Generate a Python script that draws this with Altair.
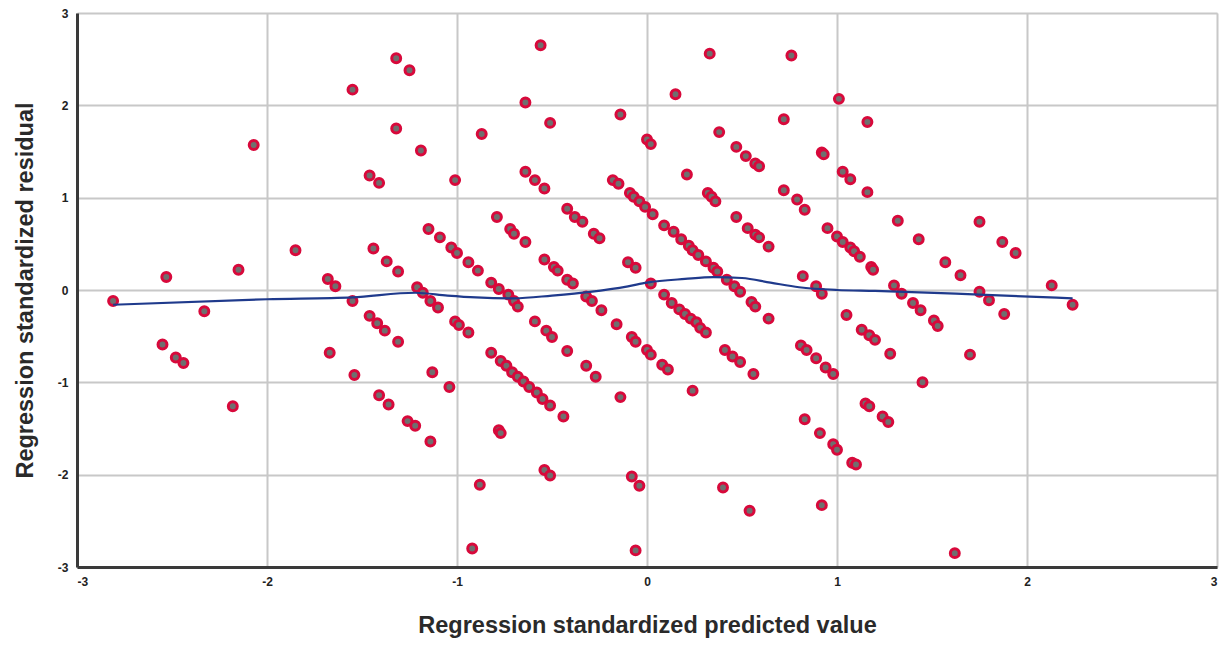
import altair as alt
import pandas as pd

# Scatter points (standardized predicted value, standardized residual)
pred = [
    -2.81, -2.53, -2.15, -2.07, -1.85, -1.55, -1.32, -1.25, -1.32, -1.19,
    -1.46, -1.41, -1.01, -1.15, -1.09, -1.03, -1.00, -1.44, -1.37, -1.31,
    -1.68, -1.64, -1.21, -1.18, -2.33, -2.55, -2.48, -2.44, -2.18, -1.55,
    -1.67, -1.54, -1.46, -1.42, -1.38, -1.31, -1.41, -1.36, -1.26, -1.22,
    -1.14, -1.14, -1.10, -1.13, -1.04, -1.01,
    -0.56, -0.64, -0.51, -0.87, -0.14, -0.64, -0.59, -0.54, 0.00, 0.02,
    0.33, 0.15, 0.76, 1.01, 0.72, 0.38, 0.47, 0.52, 0.57, 0.59,
    0.92, 0.93, 0.21, 0.72, 0.79, 0.83, -0.18, -0.15, -0.09, -0.07,
    -0.04, -0.01, 0.03, 0.32, 0.34, 0.36, 0.47, 0.53, 0.57, 0.59,
    0.64, 0.95, 1.00, 0.09, 0.14, 0.18, 0.22, 0.24, 0.27, 0.31,
    0.35, 0.37, 0.42, 0.46, 0.49, 0.82, 0.89, 0.92, 0.02, 0.09,
    -0.42, -0.38, -0.34, -0.28, -0.25, -0.10, -0.06, -0.79, -0.72, -0.70,
    -0.64, -0.94, -0.89, -0.82, -0.78, -0.73, -0.54, -0.49, -0.47, -0.42,
    -0.39, -0.32,
    -0.70, -0.68, -0.99, -0.94, -0.59, -0.53, -0.50, -0.42, -0.82, -0.77,
    -0.74, -0.71, -0.68, -0.65, -0.62, -0.58, -0.55, -0.51, -0.44, -0.78,
    -0.77, -0.88, -0.92, -0.54, -0.51, -0.29, -0.24, -0.16, -0.08, -0.06,
    0.00, 0.02, 0.08, 0.11, -0.32, -0.27, -0.14, 0.24, -0.08, -0.04,
    -0.06, 0.40, 0.54, 0.92, 0.13, 0.17, 0.20, 0.23, 0.26, 0.28,
    0.31, 0.55, 0.57, 0.64, 0.41, 0.45, 0.49, 0.56, 0.81, 0.84,
    0.89, 0.94, 0.98, 0.83, 0.91, 0.98, 1.00,
    1.16, 1.03, 1.07, 1.16, 1.32, 1.75, 1.43, 1.87, 1.94, 1.57,
    1.65, 2.13, 1.03, 1.07, 1.09, 1.12, 1.18, 1.19, 1.30, 1.34,
    1.75,
    1.40, 1.44, 1.51, 1.53, 1.80, 1.88, 2.24, 1.05, 1.13, 1.17,
    1.20, 1.28, 1.70, 1.45, 1.15, 1.17, 1.24, 1.27, 1.08, 1.10,
    1.62,
]
resid = [
    -0.12, 0.14, 0.22, 1.57, 0.43, 2.17, 2.51, 2.38, 1.75, 1.51,
    1.24, 1.16, 1.19, 0.66, 0.57, 0.46, 0.40, 0.45, 0.31, 0.20,
    0.12, 0.04, 0.03, -0.03, -0.23, -0.59, -0.73, -0.79, -1.26, -0.12,
    -0.68, -0.92, -0.28, -0.36, -0.44, -0.56, -1.14, -1.24, -1.42, -1.47,
    -1.64, -0.12, -0.19, -0.89, -1.05, -0.34,
    2.65, 2.03, 1.81, 1.69, 1.90, 1.28, 1.19, 1.10, 1.63, 1.58,
    2.56, 2.12, 2.54, 2.07, 1.85, 1.71, 1.55, 1.45, 1.37, 1.34,
    1.49, 1.47, 1.25, 1.08, 0.98, 0.87, 1.19, 1.15, 1.05, 1.01,
    0.96, 0.90, 0.82, 1.05, 1.01, 0.96, 0.79, 0.67, 0.60, 0.57,
    0.47, 0.67, 0.58, 0.70, 0.63, 0.55, 0.48, 0.43, 0.38, 0.31,
    0.24, 0.20, 0.11, 0.04, -0.02, 0.15, 0.04, -0.04, 0.07, -0.05,
    0.88, 0.79, 0.74, 0.61, 0.56, 0.30, 0.24, 0.79, 0.66, 0.61,
    0.52, 0.30, 0.21, 0.08, 0.01, -0.05, 0.33, 0.25, 0.21, 0.11,
    0.07, -0.07,
    -0.12, -0.18, -0.38, -0.46, -0.34, -0.44, -0.51, -0.66, -0.68, -0.77,
    -0.82, -0.89, -0.94, -0.99, -1.05, -1.11, -1.18, -1.25, -1.37, -1.52,
    -1.55, -2.11, -2.80, -1.95, -2.01, -0.12, -0.22, -0.37, -0.51, -0.56,
    -0.65, -0.70, -0.81, -0.86, -0.82, -0.94, -1.16, -1.09, -2.02, -2.12,
    -2.82, -2.14, -2.39, -2.33, -0.14, -0.21, -0.26, -0.31, -0.35, -0.41,
    -0.46, -0.13, -0.18, -0.31, -0.65, -0.72, -0.78, -0.91, -0.60, -0.65,
    -0.74, -0.84, -0.91, -1.40, -1.55, -1.67, -1.73,
    1.82, 1.28, 1.20, 1.06, 0.75, 0.74, 0.55, 0.52, 0.40, 0.30,
    0.16, 0.05, 0.52, 0.46, 0.42, 0.36, 0.25, 0.22, 0.05, -0.04,
    -0.02,
    -0.14, -0.22, -0.33, -0.39, -0.11, -0.26, -0.16, -0.27, -0.43, -0.49,
    -0.54, -0.69, -0.70, -1.00, -1.23, -1.26, -1.37, -1.43, -1.87, -1.89,
    -2.85,
]

# Fit line (loess)
fit_x = [-2.81, -2.0, -1.55, -1.22, -1.05, -0.9, -0.7, -0.5, -0.3, -0.1,
         0.0, 0.2, 0.35, 0.5, 0.65, 0.8, 1.0, 1.2, 1.75, 2.24]
fit_y = [-0.16, -0.10, -0.08, -0.03, -0.06, -0.08, -0.09, -0.06, -0.02, 0.04,
         0.08, 0.12, 0.14, 0.13, 0.08, 0.03, 0.00, -0.01, -0.05, -0.09]

ticks = [-3, -2, -1, 0, 1, 2, 3]

pts = pd.DataFrame({"x": pred, "y": resid})
fit = pd.DataFrame({"x": fit_x, "y": fit_y})

FONT = "Liberation Sans"

xscale = alt.Scale(domain=[-3, 3], nice=False, zero=False)
yscale = alt.Scale(domain=[-3, 3], nice=False, zero=False)

common = dict(
    values=ticks, labelExpr="'' + datum.value",
    grid=True, gridColor="#c8c8c8", gridWidth=2,
    domain=True, domainColor="#3a3a3a", domainWidth=3,
    ticks=False, labelPadding=9, labelFont=FONT, labelFontSize=12,
    labelFontWeight="bold", labelColor="#222222",
    titleFont=FONT, titleFontSize=23.5, titleFontWeight="bold",
    titleColor="#2a2a2a",
)
xaxis = alt.Axis(title="Regression standardized predicted value",
                 titlePadding=26, **common)
yaxis = alt.Axis(title="Regression standardized residual",
                 titlePadding=20, **common)

points = alt.Chart(pts).mark_point(
    shape="circle", filled=True, size=80, fill="#6f6f6f",
    stroke="#d8093b", strokeWidth=3.0, opacity=1,
).encode(
    x=alt.X("x:Q", scale=xscale, axis=xaxis),
    y=alt.Y("y:Q", scale=yscale, axis=yaxis),
)

line = alt.Chart(fit).mark_line(
    color="#1f3a8c", strokeWidth=2.2, interpolate="monotone",
).encode(
    x=alt.X("x:Q", scale=xscale),
    y=alt.Y("y:Q", scale=yscale),
)

chart = alt.layer(points, line).properties(
    width=1140, height=554,
    autosize=alt.AutoSizeParams(type="none"),
    padding={"left": 69, "top": 5, "right": 6, "bottom": 79},
).configure_view(
    stroke="#555555", strokeWidth=2,
).configure(background="white")

chart.save("out.html", embed_options={"renderer": "svg", "actions": False})
